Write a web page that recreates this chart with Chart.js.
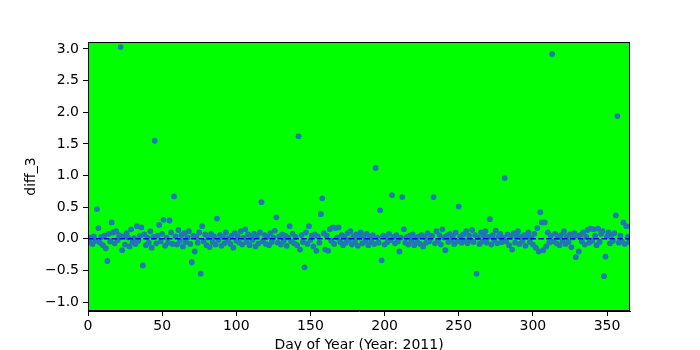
<!DOCTYPE html>
<html>
<head>
<meta charset="utf-8">
<script src="https://cdn.jsdelivr.net/npm/chart.js@4"></script>
<style>
  html, body { margin: 0; padding: 0; background: #fff; }
  #wrap { width: 700px; height: 350px; }
</style>
</head>
<body>
<div id="wrap"><canvas id="diffChart" width="700" height="350"></canvas></div>
<script>
// diff_3 values for day 1..365
const diffValues = [
  -0.05, 0.02, -0.08, 0.04, -0.03, 0.47, 0.17, -0.06, 0.03, -0.10, 0.05, -0.15, -0.35, 0.08, -0.04, 0.26, 0.10, -0.07, 0.12, -0.02,
  0.06, 3.03, -0.18, 0.04, -0.09, 0.09, 0.02, -0.12, 0.15, -0.05, 0.01, -0.08, 0.20, -0.03, 0.05, 0.18, -0.42, 0.07, -0.10, 0.02,
  -0.06, 0.12, -0.14, 0.03, 1.55, -0.07, 0.05, 0.22, -0.04, 0.08, 0.30, -0.11, 0.02, -0.06, 0.29, 0.10, -0.08, 0.67, 0.04, -0.09,
  0.14, -0.03, 0.06, -0.12, 0.09, -0.05, 0.02, 0.12, -0.08, -0.37, 0.05, -0.20, 0.03, -0.06, 0.10, -0.55, 0.20, -0.04, 0.07, -0.10,
  0.02, -0.13, 0.08, -0.05, 0.04, -0.09, 0.32, -0.02, 0.06, -0.11, 0.03, -0.07, 0.10, -0.04, 0.01, -0.08, 0.05, -0.14, 0.09, -0.03,
  0.04, -0.06, 0.12, -0.09, 0.02, 0.15, -0.05, 0.07, -0.10, 0.03, -0.02, 0.08, -0.12, 0.05, -0.07, 0.10, 0.58, -0.04, 0.06, -0.08,
  0.03, -0.10, 0.09, -0.05, 0.02, 0.13, 0.34, -0.06, 0.04, -0.09, 0.07, -0.03, 0.05, -0.11, 0.02, 0.20, -0.04, 0.08, -0.07, 0.03,
  -0.10, 1.62, -0.17, 0.06, -0.05, -0.45, 0.10, -0.08, 0.20, -0.02, 0.05, -0.12, 0.07, -0.19, 0.04, -0.06, 0.39, 0.64, 0.09, -0.17,
  0.05, -0.19, 0.15, -0.03, 0.18, -0.08, 0.17, 0.02, 0.18, -0.05, 0.06, -0.10, 0.03, -0.06, 0.09, -0.02, 0.12, -0.09, 0.04, -0.05,
  0.07, -0.11, 0.02, 0.10, -0.07, 0.05, -0.03, 0.08, -0.10, 0.03, -0.04, 0.06, -0.08, 1.12, 0.02, -0.06, 0.45, -0.34, 0.05, -0.09,
  0.04, -0.05, 0.08, -0.02, 0.69, 0.03, -0.07, 0.06, -0.04, -0.20, 0.02, 0.66, 0.15, -0.06, 0.03, -0.09, 0.05, -0.03, 0.07, -0.10,
  0.02, -0.05, 0.04, -0.08, 0.06, -0.12, 0.03, -0.06, 0.09, -0.04, 0.01, 0.05, 0.66, -0.07, 0.12, -0.03, 0.06, -0.09, 0.15, 0.02,
  -0.18, 0.05, -0.05, 0.08, -0.02, 0.04, -0.08, 0.10, -0.04, 0.51, 0.03, -0.06, 0.07, -0.03, 0.12, -0.07, 0.05, -0.02, 0.14, -0.05,
  0.06, -0.55, 0.02, -0.08, 0.10, -0.04, 0.05, 0.12, -0.06, 0.03, 0.31, -0.09, 0.06, -0.02, 0.13, -0.07, 0.04, 0.08, -0.05, 0.02,
  0.96, -0.04, 0.07, -0.10, 0.03, -0.17, 0.09, -0.06, 0.05, 0.12, -0.08, 0.03, -0.03, 0.06, -0.11, 0.04, 0.10, -0.05, 0.02, -0.09,
  0.08, -0.14, 0.17, -0.20, 0.42, 0.26, -0.18, 0.26, -0.12, 0.10, -0.06, 0.05, 2.92, -0.04, 0.08, -0.07, 0.03, -0.10, 0.06, -0.03,
  0.12, -0.08, 0.04, -0.05, 0.07, -0.13, 0.02, 0.09, -0.29, 0.05, -0.20, 0.06, -0.04, 0.10, -0.09, 0.03, 0.14, -0.06, 0.16, -0.03,
  0.15, 0.05, -0.10, 0.16, -0.05, 0.08, 0.12, -0.59, -0.28, 0.04, 0.10, -0.07, 0.06, -0.03, 0.09, 0.37, 1.94, -0.06, 0.05, -0.04,
  0.26, -0.08, 0.20, 0.03, -0.05
];
const dayOfYear = diffValues.map((v, i) => i + 1);
const xTicks = [0, 50, 100, 150, 200, 250, 300, 350];
const yTicks = [-1.0, -0.5, 0.0, 0.5, 1.0, 1.5, 2.0, 2.5, 3.0];
const refLevel = 0;

const fmt = v => (v < 0 ? '\u2212' : '') + Math.abs(v).toFixed(1);
const tickFont = { family: 'DejaVu Sans', size: 14 };

// green plot area + black frame
const framePlugin = {
    id: 'frame',
    beforeDatasetsDraw(chart) {
        const a = chart.chartArea, ctx = chart.ctx;
        ctx.save();
        ctx.fillStyle = '#00ff00';
        ctx.fillRect(a.left, a.top, a.right - a.left, a.bottom - a.top);
        ctx.restore();
    },
    afterDraw(chart) {
        const a = chart.chartArea, ctx = chart.ctx;
        ctx.save();
        ctx.strokeStyle = '#000';
        ctx.lineWidth = 1;
        ctx.strokeRect(a.left + 0.5, a.top + 0.5, a.right - a.left - 1, a.bottom - a.top - 1);
        ctx.restore();
    }
};

new Chart(document.getElementById('diffChart'), {
    type: 'scatter',
    data: {
        datasets: [{
            type: 'line',
            data: [{ x: 0, y: refLevel }, { x: 366, y: refLevel }],
            borderColor: '#0000ff',
            borderWidth: 1.5,
            borderDash: [5.5, 2.4],
            pointRadius: 0,
            fill: false
        }, {
            data: dayOfYear.map((d, i) => ({ x: d, y: diffValues[i] })),
            backgroundColor: '#1f77b4',
            borderWidth: 0,
            pointRadius: 2.9
        }]
    },
    options: {
        responsive: false,
        animation: false,
        layout: { padding: { left: 0, right: 70, top: 42, bottom: -4 } },
        plugins: { legend: { display: false }, tooltip: { enabled: false } },
        scales: {
            x: {
                type: 'linear',
                min: 0,
                max: 365.5,
                afterBuildTicks: axis => { axis.ticks = xTicks.map(v => ({ value: v })); },
                afterFit: axis => { axis.height = 43; },
                ticks: { color: '#000', font: tickFont, padding: 2, maxRotation: 0, autoSkip: false },
                grid: { drawOnChartArea: false, color: '#000', tickLength: 5, tickWidth: 1 },
                border: { color: '#000', width: 1 },
                title: { display: true, text: 'Day of Year (Year: 2011)', color: '#000', font: tickFont, padding: { top: 2, bottom: 0 } }
            },
            y: {
                min: -1.14,
                max: 3.11,
                afterBuildTicks: axis => { axis.ticks = yTicks.map(v => ({ value: v })); },
                afterFit: axis => { axis.width = 88; },
                ticks: { color: '#000', font: tickFont, padding: 4, callback: v => fmt(v) },
                grid: { drawOnChartArea: false, color: '#000', tickLength: 5, tickWidth: 1 },
                border: { color: '#000', width: 1 },
                title: { display: true, text: 'diff_3', color: '#000', font: tickFont, padding: { top: 23, bottom: 0 } }
            }
        }
    },
    plugins: [framePlugin]
});
</script>
</body>
</html>
